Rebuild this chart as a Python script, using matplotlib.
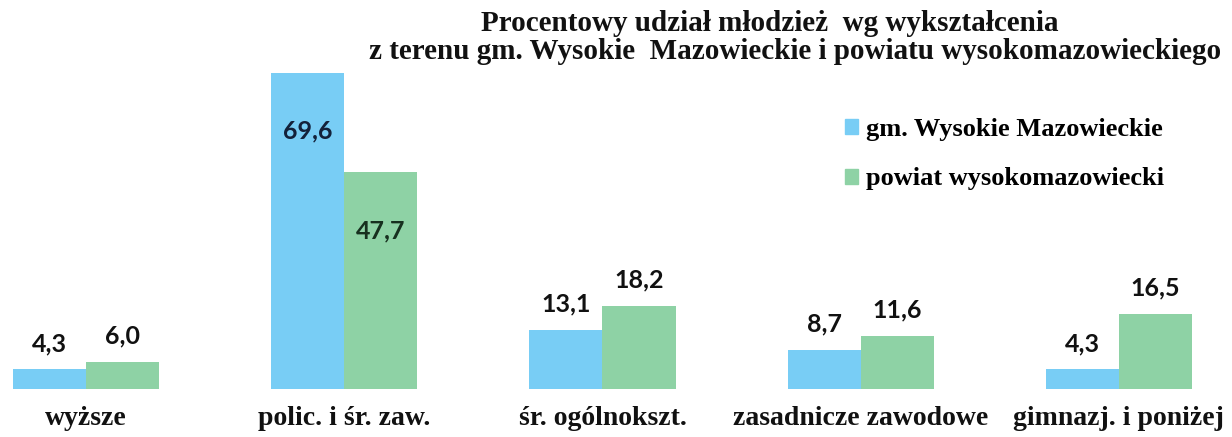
import matplotlib
matplotlib.use("Agg")
import matplotlib.pyplot as plt
import matplotlib.transforms as mtransforms
from matplotlib.patches import Patch
import numpy as np

CATEGORIES = ["wyższe", "polic. i śr. zaw.", "śr. ogólnokszt.", "zasadnicze zawodowe", "gimnazj. i poniżej"]
GMINA = [4.3, 69.6, 13.1, 8.7, 4.3]
POWIAT = [6.0, 47.7, 18.2, 11.6, 16.5]
SERIES = ["gm. Wysokie Mazowieckie", "powiat wysokomazowiecki"]
TITLE_1 = "Procentowy udział młodzież  wg wykształcenia"
TITLE_2 = "z terenu gm. Wysokie  Mazowieckie i powiatu wysokomazowieckiego"

BLUE = "#78CDF5"
GREEN = "#8ED2A5"
SERIF = "Liberation Serif"


def fmt(v):
    return f"{v:.1f}".replace(".", ",")


fig = plt.figure(figsize=(12.32, 4.37), dpi=100)
ax = fig.add_axes([0, 0, 1, 1])
x = np.arange(len(CATEGORIES))
w = 0.283
b1 = ax.bar(x - w / 2, GMINA, w, color=BLUE, label=SERIES[0])
b2 = ax.bar(x + w / 2, POWIAT, w, color=GREEN, label=SERIES[1])
ax.set_xlim(-0.333, 4.438)
ax.set_ylim(-10.57, 85.68)
ax.axis("off")

# value labels: inside the end for the tall pair, above the bar elsewhere
for bars, vals, inner in ((b1, GMINA, "#13213a"), (b2, POWIAT, "#17301f")):
    for rect, v in zip(bars, vals):
        cx = rect.get_x() + rect.get_width() / 2
        inside = v > 40
        ax.annotate(fmt(v), (cx, v), xytext=(0, -58 if inside else 26), textcoords="offset pixels",
                    ha="center", va="center", fontsize=18, fontweight="bold", family="Lato",
                    color=inner if inside else "#111111")

trans = mtransforms.blended_transform_factory(ax.transData, fig.transFigure)
for xi, lab in zip(x, CATEGORIES):
    ax.text(xi, 12 / 437, lab, transform=trans, ha="center", va="baseline",
            fontsize=20, fontweight="bold", family=SERIF, color="#111111")

fig.text(770 / 1232, 1 - 31 / 437, TITLE_1, ha="center", va="baseline",
         fontsize=21, fontweight="bold", family=SERIF, color="#111111")
fig.text(795 / 1232, 1 - 59 / 437, TITLE_2, ha="center", va="baseline",
         fontsize=21, fontweight="bold", family=SERIF, color="#111111")

handles = [Patch(color=BLUE), Patch(color=GREEN)]
fig.legend(handles, SERIES, loc="upper left", bbox_to_anchor=(845 / 1232, 1 - 118 / 437),
           frameon=False, borderpad=0, borderaxespad=0, handlelength=0.5, handleheight=0.5,
           handletextpad=0.3, labelspacing=1.0, prop={"family": SERIF, "weight": "bold", "size": 19})

fig.savefig("out.png", dpi=100)
